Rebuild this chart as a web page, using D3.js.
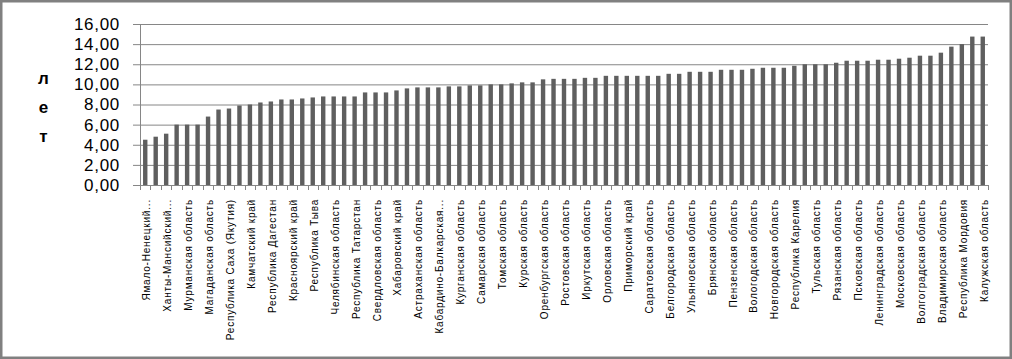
<!DOCTYPE html>
<html>
<head>
<meta charset="utf-8">
<script src="https://cdn.jsdelivr.net/npm/d3@7"></script>
<style>
  html, body { margin: 0; padding: 0; background: #fff; }
  svg { display: block; }
  text { font-family: "Liberation Sans", Arial, sans-serif; }
</style>
</head>
<body>
<svg id="chart" width="1012" height="359"></svg>
<script>
// Values (years), one per region, sorted ascending
const values = [
  4.5, 4.8, 5.1, 6.0, 6.0, 6.0, 6.8, 7.5, 7.6, 7.9,
  8.0, 8.2, 8.3, 8.5, 8.5, 8.6, 8.7, 8.8, 8.8, 8.8,
  8.8, 9.2, 9.2, 9.2, 9.4, 9.6, 9.7, 9.7, 9.7, 9.8,
  9.8, 9.9, 9.9, 10.0, 10.0, 10.1, 10.2, 10.2, 10.5, 10.55,
  10.55, 10.55, 10.65, 10.65, 10.85, 10.85, 10.85, 10.85, 10.85, 10.85,
  11.05, 11.05, 11.25, 11.25, 11.25, 11.45, 11.45, 11.45, 11.55, 11.65,
  11.65, 11.65, 11.85, 12.0, 12.0, 12.0, 12.15, 12.35, 12.35, 12.35,
  12.45, 12.45, 12.55, 12.65, 12.85, 12.85, 13.15, 13.75, 14.0, 14.75,
  14.75
];
// Category labels shown on the axis (every second bar)
const tickLabels = [
  "Ямало-Ненецкий...", "Ханты-Мансийский...", "Мурманская область", "Магаданская область",
  "Республика Саха (Якутия)", "Камчатский край", "Республика Дагестан", "Красноярский край",
  "Республика Тыва", "Челябинская область", "Республика Татарстан", "Свердловская область",
  "Хабаровский край", "Астраханская область", "Кабардино-Балкарская...", "Курганская область",
  "Самарская область", "Томская область", "Курская область", "Оренбургская область",
  "Ростовская область", "Иркутская область", "Орловская область", "Приморский край",
  "Саратовская область", "Белгородская область", "Ульяновская область", "Брянская область",
  "Пензенская область", "Вологодская область", "Новгородская область", "Республика Карелия",
  "Тульская область", "Рязанская область", "Псковская область", "Ленинградская область",
  "Московская область", "Волгоградская область", "Владимирская область", "Республика Мордовия",
  "Калужская область"
];
const yTicks = [0, 2, 4, 6, 8, 10, 12, 14, 16];
const axisTitle = ["л", "е", "т"];

(function () {
const svg = d3.select("#chart");
const W = 1012, H = 359;
const mLeft = 140, mRight = 988, mTop = 24, mBottom = 185;
const gridColor = "#868686";
const barColor = "#5f5f5f";

// outer border
svg.append("rect")
  .attr("x", 1.25).attr("y", 1.25)
  .attr("width", W - 2.5).attr("height", H - 2.5)
  .attr("fill", "#fff").attr("stroke", "#808080").attr("stroke-width", 2.5);

const x = d3.scaleBand()
  .domain(d3.range(values.length))
  .range([mLeft, mRight])
  .paddingInner(0.58)
  .paddingOuter(0.29);
const y = d3.scaleLinear().domain([0, 16]).range([mBottom, mTop]);

// gridlines
const grid = svg.append("g")
  .attr("transform", `translate(${mLeft},0)`)
  .call(d3.axisLeft(y).tickValues(yTicks).tickSize(-(mRight - mLeft)).tickFormat(""));
grid.select(".domain").remove();
grid.selectAll(".tick line").attr("stroke", gridColor);

// y axis
const yAxis = svg.append("g")
  .attr("transform", `translate(${mLeft},0)`)
  .call(d3.axisLeft(y).tickValues(yTicks).tickSize(7).tickPadding(13)
    .tickFormat(d => d.toFixed(2).replace(".", ",")));
yAxis.select(".domain").attr("stroke", gridColor);
yAxis.selectAll(".tick line").attr("stroke", gridColor);
yAxis.selectAll(".tick text")
  .attr("font-size", 17)
  .attr("fill", "#000")
  .style("letter-spacing", "0.7px")
  .attr("font-family", "'Liberation Sans', Arial, sans-serif");

// bars
svg.append("g").selectAll("rect")
  .data(values)
  .join("rect")
  .attr("x", (d, i) => x(i))
  .attr("width", x.bandwidth())
  .attr("y", d => y(d))
  .attr("height", d => y(0) - y(d))
  .attr("fill", barColor);

// x axis baseline and tick marks between categories
const step = x.step();
const boundaries = d3.range(values.length + 1).map(i => i === values.length
  ? x(values.length - 1) + x.bandwidth() + step * 0.29
  : x(i) - step * 0.29);
const xg = svg.append("g");
xg.append("line")
  .attr("x1", mLeft).attr("x2", mRight + 0.5)
  .attr("y1", y(0) + 0.5).attr("y2", y(0) + 0.5)
  .attr("stroke", gridColor);
xg.selectAll("line.tk")
  .data(boundaries)
  .join("line")
  .attr("class", "tk")
  .attr("x1", d => Math.round(d) + 0.5).attr("x2", d => Math.round(d) + 0.5)
  .attr("y1", y(0)).attr("y2", y(0) + 5)
  .attr("stroke", gridColor);

// category labels (every second bar)
svg.append("g").selectAll("text")
  .data(tickLabels)
  .join("text")
  .attr("transform", (d, k) => {
    const cx = x(k * 2) + x.bandwidth() / 2 + 1.5;
    return `translate(${cx},199) rotate(-90)`;
  })
  .attr("text-anchor", "end")
  .attr("dy", "0.35em")
  .attr("font-size", 10)
  .style("letter-spacing", "0.8px")
  .attr("fill", "#000")
  .text(d => d);

// axis title, stacked letters
svg.append("g").selectAll("text")
  .data(axisTitle)
  .join("text")
  .attr("x", 43.5)
  .attr("y", (d, i) => 84 + i * 29)
  .attr("text-anchor", "middle")
  .attr("font-size", 17)
  .attr("font-weight", "bold")
  .attr("fill", "#000")
  .text(d => d);
})();
</script>
</body>
</html>
